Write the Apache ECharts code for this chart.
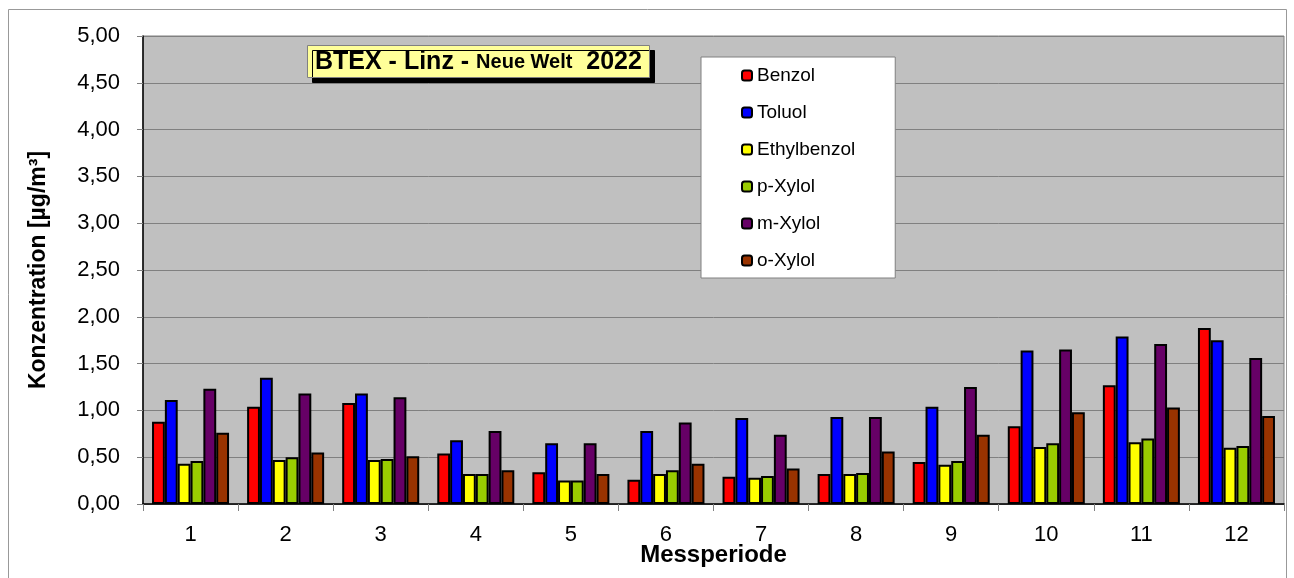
<!DOCTYPE html>
<html>
<head>
<meta charset="utf-8">
<script src="https://cdn.jsdelivr.net/npm/echarts@6/dist/echarts.min.js"></script>
<style>
  html, body { margin: 0; padding: 0; background: #fff; }
  #chart { width: 1294px; height: 578px; }
</style>
</head>
<body>
<div id="chart"></div>
<script>
// Messperioden
var perioden = ['1', '2', '3', '4', '5', '6', '7', '8', '9', '10', '11', '12'];
// Werte in µg/m³
var benzol      = [0.88, 1.04, 1.08, 0.54, 0.34, 0.26, 0.29, 0.32, 0.45, 0.83, 1.27, 1.88];
var toluol      = [1.11, 1.35, 1.18, 0.68, 0.65, 0.78, 0.92, 0.93, 1.04, 1.64, 1.79, 1.75];
var ethylbenzol = [0.43, 0.47, 0.47, 0.32, 0.25, 0.32, 0.28, 0.32, 0.42, 0.61, 0.66, 0.60];
var pXylol      = [0.46, 0.50, 0.48, 0.32, 0.25, 0.36, 0.30, 0.33, 0.46, 0.65, 0.70, 0.62];
var mXylol      = [1.23, 1.18, 1.14, 0.78, 0.65, 0.87, 0.74, 0.93, 1.25, 1.65, 1.71, 1.56];
var oXylol      = [0.76, 0.55, 0.51, 0.36, 0.32, 0.43, 0.38, 0.56, 0.74, 0.98, 1.03, 0.94];

var namen = ['Benzol', 'Toluol', 'Ethylbenzol', 'p-Xylol', 'm-Xylol', 'o-Xylol'];
var farben = ['#FF0000', '#0000FF', '#FFFF00', '#99CC00', '#660066', '#993300'];
var reihen = [benzol, toluol, ethylbenzol, pXylol, mXylol, oXylol];

var font = '"Liberation Sans", Arial, sans-serif';

var myChart = echarts.init(document.getElementById('chart'));

var seriesarr = reihen.map(function (werte, i) {
    return {
        name: namen[i],
        type: 'bar',
        data: werte,
        barGap: '0%',
        barCategoryGap: '19%',
        itemStyle: {
            color: farben[i],
            borderColor: '#000',
            borderWidth: 2
        },
        emphasis: { disabled: true }
    };
});

var option = {
    animation: false,
    textStyle: { fontFamily: font },
    title: {
        text: '{a|BTEX - Linz - }{b|Neue Welt}{a|  2022}',
        left: 307,
        top: 44,
        padding: [4, 8, 3, 8],
        backgroundColor: '#FFFF99',
        borderColor: '#808080',
        borderWidth: 1,
        shadowColor: '#000',
        shadowBlur: 0,
        shadowOffsetX: 5,
        shadowOffsetY: 5,
        textStyle: {
            rich: {
                a: { fontFamily: font, fontSize: 25, fontWeight: 'bold', color: '#000', lineHeight: 28 },
                b: { fontFamily: font, fontSize: 20, fontWeight: 'bold', color: '#000', lineHeight: 28 }
            }
        }
    },
    legend: {
        data: namen,
        orient: 'vertical',
        left: 701,
        top: 57,
        itemWidth: 10,
        itemHeight: 10,
        itemGap: 18,
        padding: [9, 40, 8, 40],
        backgroundColor: '#fff',
        borderColor: '#808080',
        borderWidth: 1,
        textStyle: { fontFamily: font, fontSize: 19, color: '#000' }
    },
    grid: {
        left: 143,
        top: 36,
        width: 1141,
        height: 468,
        outerBoundsMode: 'none',
        show: true,
        backgroundColor: '#C0C0C0',
        borderColor: '#808080',
        borderWidth: 1
    },
    graphic: [{
        type: 'rect',
        z: -10,
        shape: { x: 8.5, y: 9.5, width: 1278, height: 600 },
        style: { fill: 'none', stroke: '#999', lineWidth: 1 }
    }],
    xAxis: {
        type: 'category',
        data: perioden,
        name: 'Messperiode',
        nameLocation: 'middle',
        nameGap: 39,
        nameMoveOverlap: false,
        nameTextStyle: { fontFamily: font, fontSize: 24, fontWeight: 'bold', color: '#000' },
        axisLine: { lineStyle: { color: '#000', width: 1.5 } },
        axisTick: { show: true, length: 7, lineStyle: { color: '#808080' } },
        axisLabel: { margin: 20, fontFamily: font, fontSize: 22, color: '#000' }
    },
    yAxis: {
        type: 'value',
        min: 0,
        max: 5,
        interval: 0.5,
        name: 'Konzentration [µg/m³]',
        nameLocation: 'middle',
        nameGap: 93,
        nameMoveOverlap: false,
        nameTextStyle: { fontFamily: font, fontSize: 23, fontWeight: 'bold', color: '#000' },
        axisLine: { show: true, lineStyle: { color: '#000', width: 1.5 } },
        axisTick: { show: true, length: 6, lineStyle: { color: '#808080' } },
        axisLabel: {
            margin: 23,
            fontFamily: font,
            fontSize: 22,
            color: '#000',
            formatter: function (value) {
                return value.toFixed(2).replace('.', ',');
            }
        },
        splitLine: { lineStyle: { color: '#808080', width: 1 } }
    },
    series: seriesarr
};

myChart.setOption(option);
</script>
</body>
</html>
